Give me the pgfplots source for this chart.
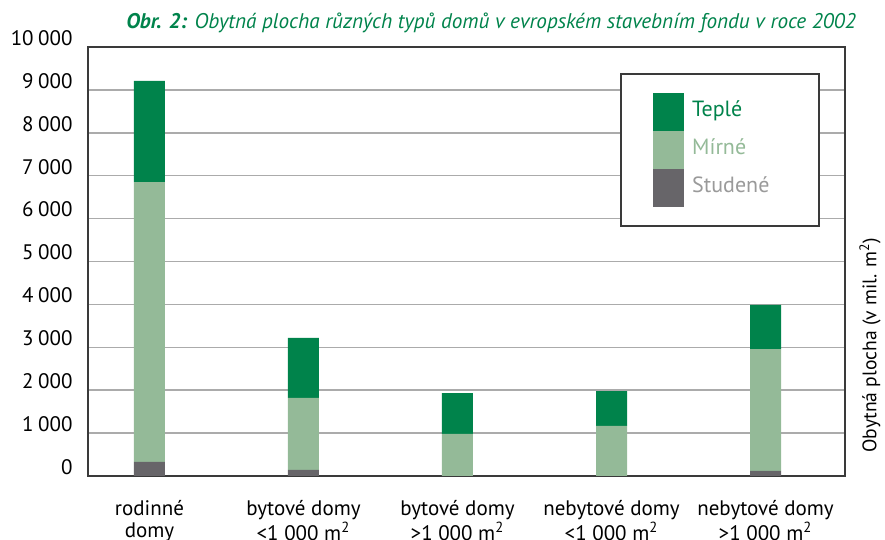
\documentclass[border=0pt]{standalone}
\usepackage{fontspec}
\setmainfont{PT Sans}
\usepackage{pgfplots}
\pgfplotsset{compat=1.18}
\definecolor{warm}{HTML}{00834B}
\definecolor{mild}{HTML}{94BA98}
\definecolor{cold}{HTML}{676569}
\definecolor{coldtxt}{HTML}{9A9A9A}
\definecolor{gridc}{HTML}{ABABAB}
\definecolor{framec}{HTML}{3A3A3A}
\begin{document}
\begin{tikzpicture}
\begin{axis}[
  at={(0pt,0pt)}, anchor=south west,
  scale only axis, width=378.5pt, height=214.5pt,
  ybar stacked, bar width=15.5pt,
  clip=false,
  xmin=-0.399, xmax=4.516, ymin=0, ymax=10000,
  xtick={0,1,2,3,4},
  xticklabels={{rodinné\\domy},{bytové domy\\<1 000 m\textsuperscript{2}},{bytové domy\\>1 000 m\textsuperscript{2}},{nebytové domy\\<1 000 m\textsuperscript{2}},{nebytové domy\\>1 000 m\textsuperscript{2}}},
  ytick={0,1000,...,10000},
  scaled y ticks=false,
  /pgf/number format/assume math mode=true,
  yticklabel style={/pgf/number format/.cd,1000 sep={\hspace{0.22em}},/tikz/.cd,anchor=south east, inner sep=0pt, xshift=-7.5pt, yshift=0.5pt, font=\fontsize{10.5}{12}\selectfont},
  xticklabel style={align=center, anchor=north, inner sep=0pt, yshift=-12pt, font=\fontsize{10.5}{10.8}\selectfont},
  major tick length=0pt,
  tick style={draw=none},
  axis line style={framec, line width=0.7pt},
  ymajorgrids,
  grid style={gridc, line width=0.75pt},
  legend style={at={(0.967,0.939)}, anchor=north east, draw=framec, line width=0.8pt, inner xsep=16pt, inner ysep=9.5pt, row sep=0pt, column sep=4pt, font=\fontsize{11}{13}\selectfont, nodes={inner sep=0pt, text height=12pt, text depth=7pt, text width=47.5pt}},
  legend cell align=left,
  legend image code/.code={\fill[#1] (0pt,-9.5pt) rectangle (15.5pt,9.5pt);},
  reverse legend,
]
\addplot[fill=cold, draw=none] coordinates {(0,330) (1,140) (2,0) (3,0) (4,120)};
\addlegendentry{\textcolor{coldtxt}{Studené}}
\addplot[fill=mild, draw=none] coordinates {(0,6520) (1,1680) (2,980) (3,1170) (4,2840)};
\addlegendentry{\textcolor{mild}{Mírné}}
\addplot[fill=warm, draw=none] coordinates {(0,2360) (1,1400) (2,950) (3,810) (4,1030)};
\addlegendentry{\textcolor{warm}{Teplé}}
\node[rotate=90, font=\fontsize{9.8}{12}\selectfont] at (rel axis cs:1.033,0.305) {Obytná plocha (v mil. m\textsuperscript{2})};
\node[anchor=base east, inner sep=0pt, text=warm, font=\itshape\fontsize{10.6}{12}\selectfont] at (rel axis cs:1.015,1.042) {\textbf{Obr. 2:} Obytná plocha různých typů domů v evropském stavebním fondu v roce 2002};
\end{axis}
\pgfresetboundingbox
\path (-44pt,-32pt) rectangle (398.5pt,238pt);
\end{tikzpicture}
\end{document}
